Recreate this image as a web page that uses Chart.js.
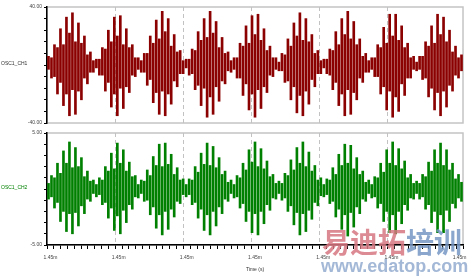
<!DOCTYPE html>
<html>
<head>
<meta charset="utf-8">
<script src="https://cdn.jsdelivr.net/npm/chart.js@4.4.1/dist/chart.umd.min.js"></script>
<style>
    body { margin: 0; background: #fff; width: 476px; height: 277px; overflow: hidden; position: relative; font-family: "Liberation Sans", Arial, sans-serif; }
    #wrap-ch1 { position: absolute; left: 0; top: 0; width: 476px; height: 128px; }
    #wrap-ch2 { position: absolute; left: 0; top: 128px; width: 476px; height: 149px; }
    .ch-name { position: absolute; left: 1px; font-size: 5px; line-height: 6px; white-space: nowrap; }
    .wm { position: absolute; white-space: nowrap; font-weight: bold; z-index: 5; }
</style>
</head>
<body>
<div id="wrap-ch1"><canvas id="chart-ch1" width="476" height="128"></canvas></div>
<div id="wrap-ch2"><canvas id="chart-ch2" width="476" height="149"></canvas></div>
<div class="ch-name" style="top:60px;color:#333;">OSC1_CH1</div>
<div class="ch-name" style="top:184px;color:#008000;">OSC1_CH2</div>
<div class="wm" style="left:322px;top:224px;font-family:'Noto Sans CJK SC';font-size:28px;line-height:34px;"><span style="color:rgba(214,118,128,0.85);">易迪拓</span><span style="color:rgba(118,150,196,0.85);">培训</span></div>
<div class="wm" style="left:321px;top:256px;font-family:'Liberation Sans',Arial;font-size:18px;line-height:20px;color:rgba(140,166,204,0.8);">www.edatop.com</div>

<script>
// stroke extents (one bar per visible stroke)
const ch1Hi = [
    6, 5, 14, 12, 25, 14, 33, 22, 36, 16,
    29, 15, 20, 7, 9, 3, 4, 4, 12, 11,
    24, 16, 33, 20, 34, 14, 25, 12, 14, 5,
    5, 3, 8, 8, 20, 15, 31, 18, 37, 23,
    32, 13, 21, 9, 10, 3, 4, 4, 11, 10,
    23, 17, 32, 19, 37, 22, 30, 12, 19, 8,
    9, 3, 5, 5, 15, 13, 27, 15, 34, 21,
    35, 17, 25, 10, 13, 5, 5, 2, 8, 7,
    18, 13, 29, 20, 36, 17, 32, 16, 21, 8,
    10, 3, 4, 4, 11, 10, 23, 14, 32, 21,
    37, 18, 30, 14, 18, 6, 8, 3, 5, 5,
    14, 12, 26, 15, 35, 20, 35, 17, 27, 12,
    15, 5, 6, 2, 6, 6, 16, 13, 27, 15,
    35, 21, 33, 16, 24, 9, 13, 5, 7
];
const ch1Lo = [
    -3, -9, -8, -20, -12, -28, -20, -35, -17, -34,
    -18, -24, -9, -13, -5, -5, -2, -7, -7, -18,
    -12, -29, -20, -35, -16, -30, -15, -19, -7, -8,
    -3, -5, -5, -14, -10, -26, -19, -34, -18, -35,
    -20, -27, -11, -15, -6, -6, -2, -7, -6, -17,
    -14, -28, -16, -36, -22, -34, -15, -25, -11, -13,
    -4, -5, -3, -9, -9, -21, -13, -31, -20, -36,
    -17, -30, -15, -19, -7, -8, -3, -4, -4, -12,
    -11, -24, -15, -33, -21, -35, -18, -27, -10, -15,
    -6, -6, -2, -6, -7, -17, -12, -28, -20, -35,
    -17, -34, -19, -24, -9, -12, -5, -5, -3, -8,
    -8, -20, -15, -31, -18, -36, -22, -32, -13, -21,
    -9, -9, -3, -4, -3, -10, -9, -22, -16, -31,
    -19, -35, -18, -29, -14, -18, -7, -9, -4
];
const ch2Hi = [
    0.5, 1.2, 1.0, 2.3, 1.4, 3.4, 2.3, 4.2, 1.9, 3.7,
    2.0, 2.8, 1.1, 1.6, 0.7, 0.8, 0.4, 1.0, 0.8, 2.0,
    1.6, 3.2, 1.8, 4.1, 2.3, 3.5, 1.6, 2.4, 1.1, 1.2,
    0.4, 0.8, 0.7, 1.7, 1.2, 2.9, 2.1, 4.0, 2.0, 4.1,
    2.2, 3.1, 1.3, 1.9, 0.8, 0.9, 0.4, 0.9, 0.8, 2.0,
    1.5, 3.2, 2.2, 4.1, 2.1, 3.8, 1.9, 2.8, 1.3, 1.6,
    0.6, 0.8, 0.4, 1.2, 1.0, 2.3, 1.7, 3.5, 2.4, 4.2,
    2.0, 3.6, 1.8, 2.5, 1.1, 1.3, 0.5, 0.7, 0.5, 1.4,
    1.2, 2.6, 1.7, 3.7, 2.3, 4.2, 2.0, 3.3, 1.6, 2.1,
    0.8, 1.0, 0.4, 0.9, 0.8, 1.9, 1.3, 3.1, 2.1, 4.0,
    2.3, 3.9, 1.8, 2.8, 1.3, 1.6, 0.6, 0.8, 0.4, 1.1,
    1.0, 2.3, 1.5, 3.5, 2.3, 4.2, 2.1, 3.6, 1.8, 2.5,
    1.0, 1.3, 0.5, 0.7, 0.5, 1.3, 1.1, 2.4, 1.6, 3.5,
    2.3, 4.1, 2.1, 3.5, 1.7, 2.3, 0.9, 1.3, 0.6
];
const ch2Lo = [
    -0.9, -0.7, -1.7, -1.2, -2.9, -2.0, -3.8, -2.2, -4.0, -2.1,
    -3.3, -1.5, -2.2, -0.9, -1.1, -0.4, -0.7, -0.5, -1.4, -1.2,
    -2.6, -1.7, -3.7, -2.4, -4.0, -1.9, -3.0, -1.4, -1.8, -0.7,
    -0.8, -0.4, -1.1, -1.0, -2.3, -1.6, -3.5, -2.3, -4.1, -2.0,
    -3.6, -1.8, -2.5, -1.1, -1.3, -0.5, -0.7, -0.5, -1.4, -1.2,
    -2.6, -1.8, -3.7, -2.3, -4.1, -2.0, -3.3, -1.6, -2.2, -0.9,
    -1.1, -0.4, -0.8, -0.7, -1.7, -1.3, -2.9, -2.0, -3.9, -2.2,
    -4.1, -2.0, -3.1, -1.4, -1.9, -0.8, -0.9, -0.4, -1.0, -0.8,
    -2.0, -1.5, -3.2, -2.1, -4.1, -2.2, -3.8, -1.9, -2.7, -1.2,
    -1.5, -0.6, -0.7, -0.5, -1.3, -1.1, -2.5, -1.8, -3.6, -2.3,
    -4.2, -2.1, -3.4, -1.6, -2.2, -0.9, -1.1, -0.4, -0.8, -0.7,
    -1.7, -1.3, -2.9, -2.0, -3.9, -2.3, -4.0, -2.0, -3.1, -1.4,
    -1.9, -0.8, -0.9, -0.4, -0.9, -0.7, -1.8, -1.4, -3.0, -2.0,
    -3.9, -2.3, -3.9, -1.9, -2.9, -1.3, -1.7, -0.8, -1.1
];

// time axis: 6 major divisions, all labelled 1.45m by the scope software
const timeMin = 0;
const timeMax = 6;
const timeLabel = '1.45m';

const isWhole = v => Math.abs(v - Math.round(v)) < 1e-6;

// grey frame round the plot area, axes get drawn over it
const framePlugin = {
    id: 'frame',
    beforeDraw(chart) {
        const { ctx, chartArea: a } = chart;
        ctx.save();
        ctx.strokeStyle = '#c4c4c4';
        ctx.lineWidth = 1.5;
        ctx.strokeRect(a.left, a.top, a.right - a.left, a.bottom - a.top);
        ctx.restore();
    }
};

function makeChart(id, hi, lo, color, yMax, yStep, showX, pad) {
    const ctx = document.getElementById(id).getContext('2d');
    return new Chart(ctx, {
        type: 'bar',
        data: {
            labels: hi.map((_, i) => i),
            datasets: [{
                data: hi.map((h, i) => [lo[i], h]),
                backgroundColor: color,
                borderWidth: 0,
                barThickness: 2
            }]
        },
        options: {
            responsive: false,
            animation: false,
            events: [],
            layout: { padding: pad },
            plugins: { legend: { display: false }, tooltip: { enabled: false } },
            scales: {
                x: { display: false, offset: true },
                x2: {
                    type: 'linear',
                    position: 'bottom',
                    min: timeMin,
                    max: timeMax,
                    grid: {
                        color: c => (c.tick && isWhole(c.tick.value) && c.tick.value > timeMin && c.tick.value < timeMax) ? '#c2c2c2' : 'rgba(0,0,0,0)',
                        lineWidth: 1,
                        drawTicks: showX,
                        tickLength: 4,
                        tickColor: '#000',
                        tickWidth: 1
                    },
                    border: { display: showX, color: '#000', width: 1.5, dash: [4, 3] },
                    ticks: {
                        display: showX,
                        stepSize: 0.1,
                        autoSkip: false,
                        maxRotation: 0,
                        padding: 6,
                        color: '#444',
                        font: { size: 5, family: 'Liberation Sans' },
                        callback: v => isWhole(v) ? timeLabel : ''
                    },
                    title: {
                        display: showX,
                        text: 'Time (s)',
                        color: '#333',
                        font: { size: 5, family: 'Liberation Sans' },
                        padding: { top: 0, bottom: 0 }
                    }
                },
                y: {
                    min: -yMax,
                    max: yMax,
                    afterFit: s => { s.width = 47; },
                    grid: { drawOnChartArea: false, tickLength: 3, color: '#000', tickColor: '#000' },
                    border: { color: '#000', width: 1.5 },
                    ticks: {
                        stepSize: yStep,
                        autoSkip: false,
                        padding: 2,
                        color: '#444',
                        font: { size: 5, family: 'Liberation Sans' },
                        callback: v => Math.abs(v) === yMax ? v.toFixed(2) : ''
                    }
                }
            }
        },
        plugins: [framePlugin]
    });
}

makeChart('chart-ch1', ch1Hi, ch1Lo, '#8b0000', 40, 8, false, { left: 0, top: 7, right: 13, bottom: 5 });
makeChart('chart-ch2', ch2Hi, ch2Lo, '#008000', 5, 1, true, { left: 0, top: 3, right: 13, bottom: 4 });
</script>
</body>
</html>
